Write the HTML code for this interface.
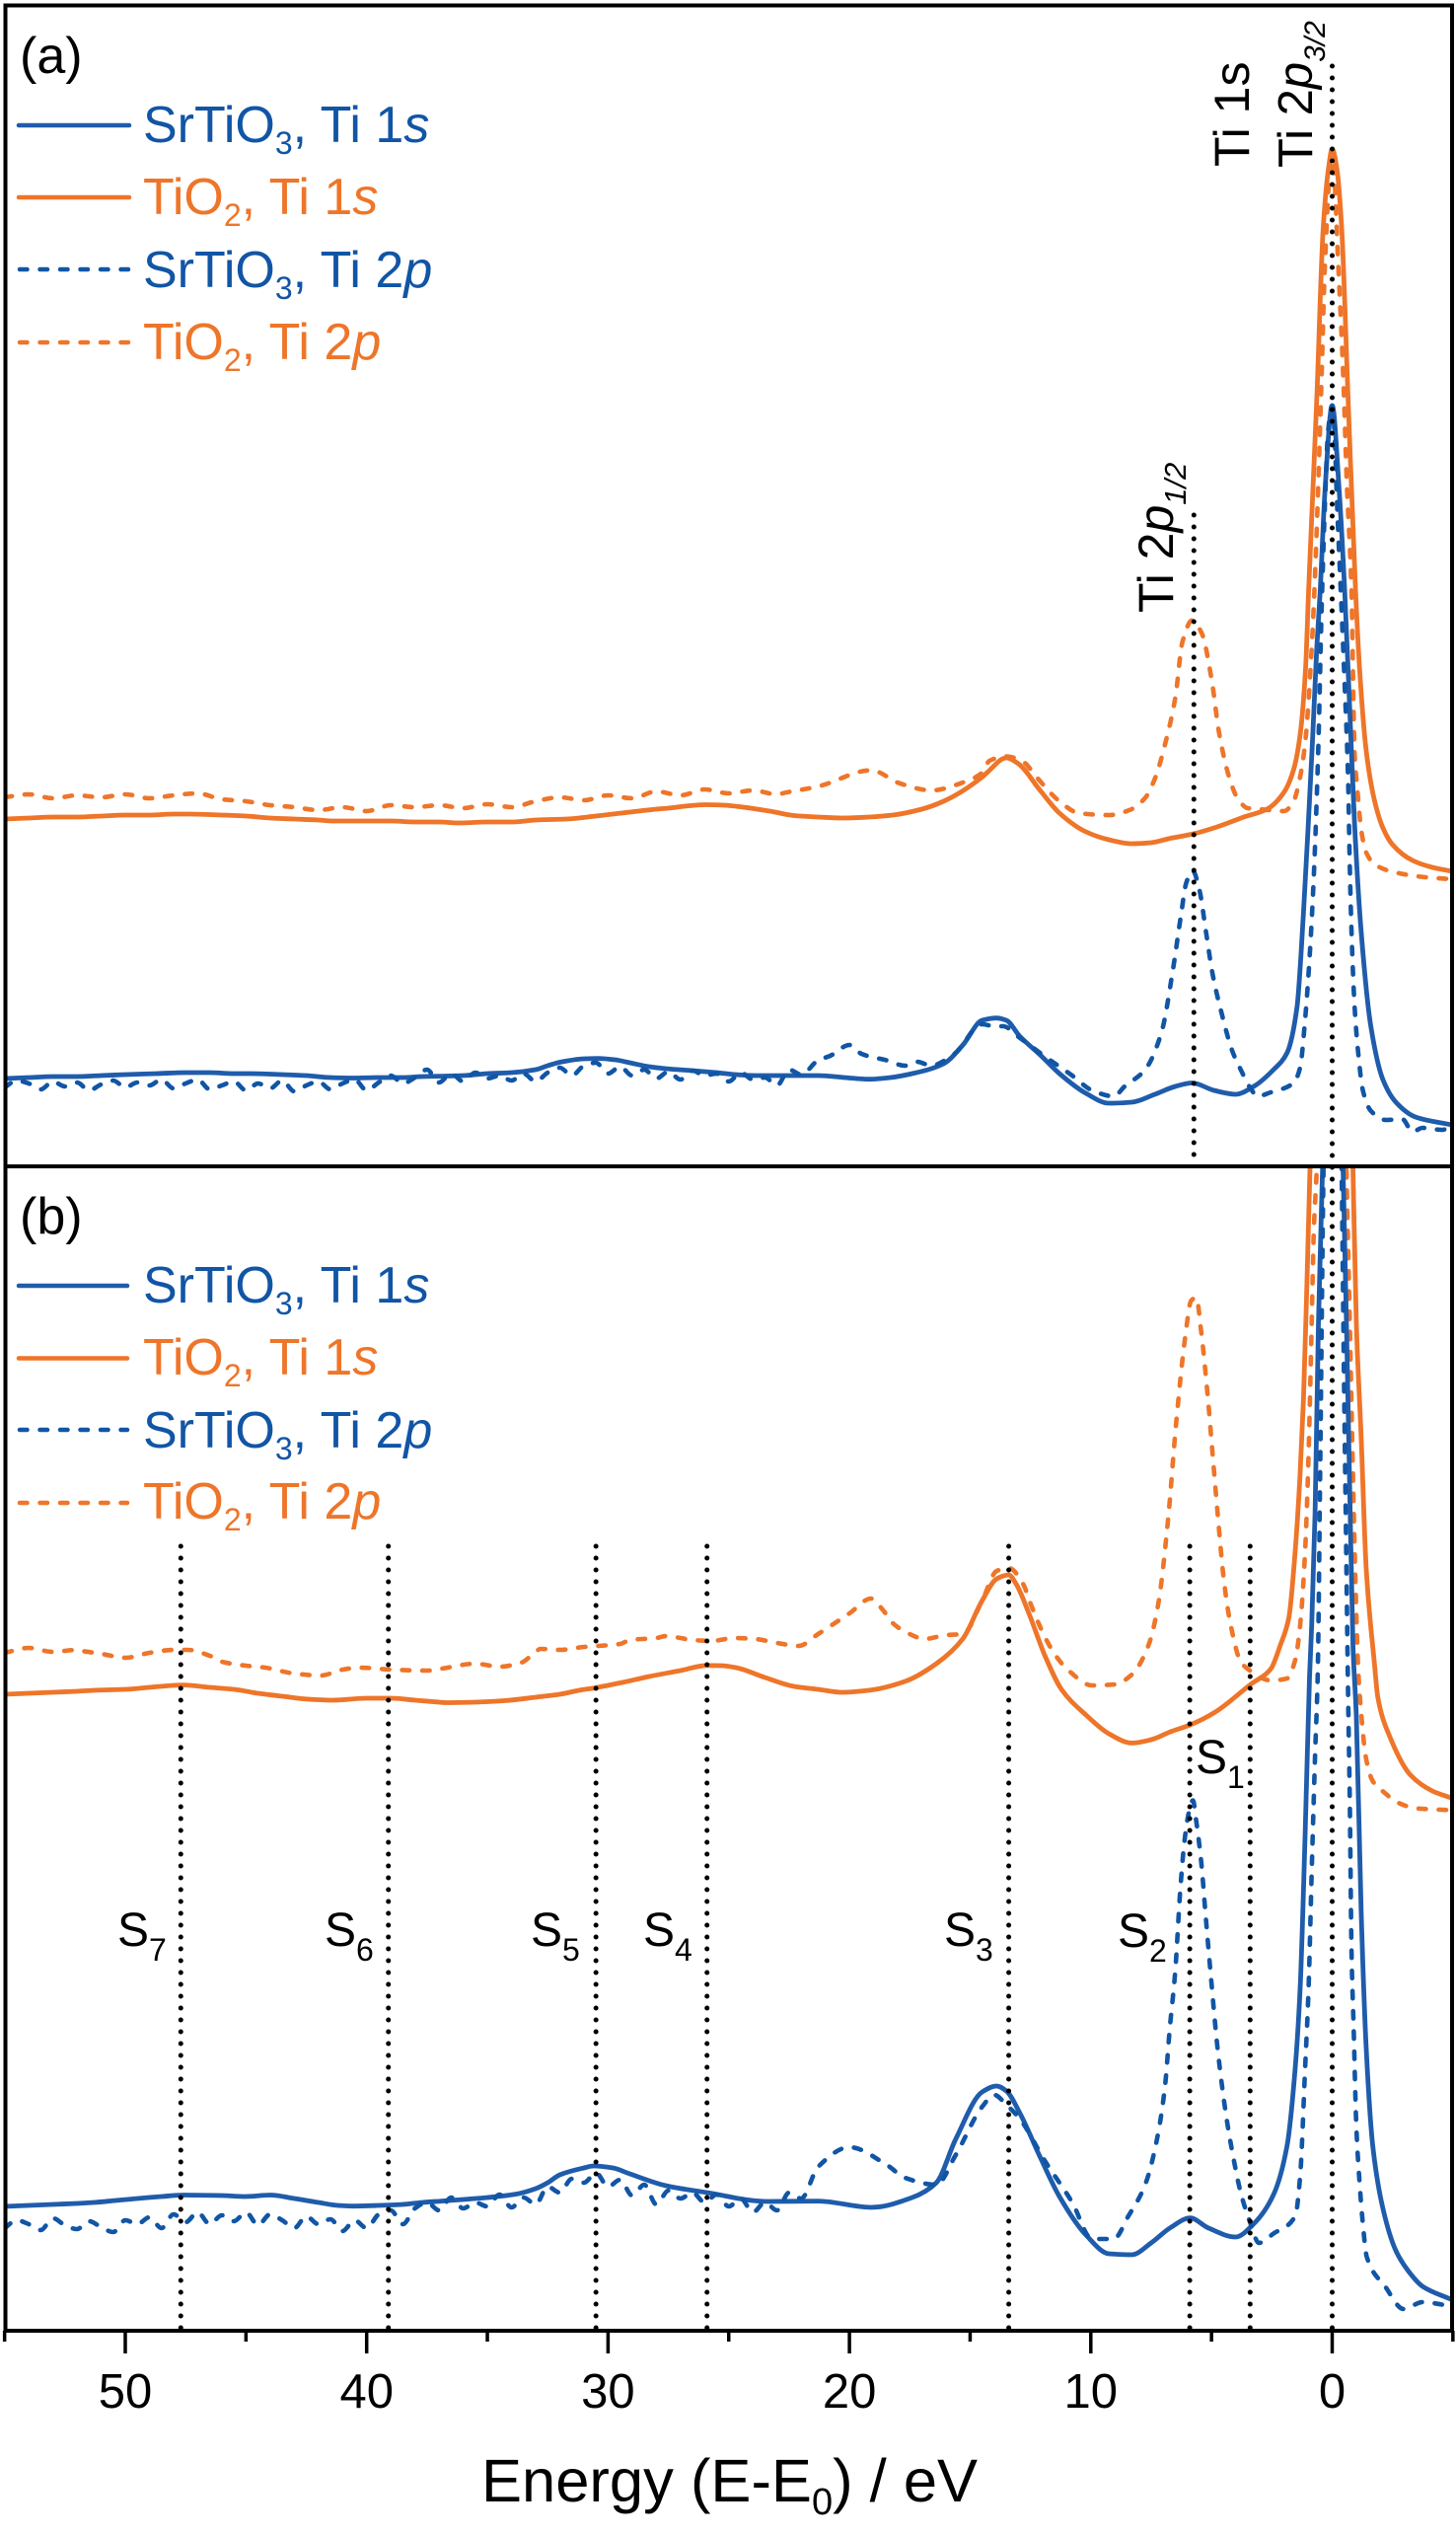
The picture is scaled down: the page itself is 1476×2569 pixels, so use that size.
<!DOCTYPE html>
<html lang="en">
<head>
<meta charset="utf-8">
<title>Ti 1s and Ti 2p energy loss spectra</title>
<style>
html,body{margin:0;padding:0;background:#fff;}
svg{display:block;font-family:"Liberation Sans",Arial,sans-serif;}
</style>
</head>
<body>
<svg id="chart" xmlns="http://www.w3.org/2000/svg" width="1476" height="2569" viewBox="0 0 1476 2569">
  <defs>
    <clipPath id="clip-a"><rect x="5" y="5" width="1467" height="1175"/></clipPath>
    <clipPath id="clip-b"><rect x="5" y="1183" width="1467" height="1178"/></clipPath>
  </defs>
  <rect x="0" y="0" width="1476" height="2569" fill="#fff"/>
  <g id="panel-a-marks" clip-path="url(#clip-a)"></g>
  <g id="panel-b-marks" clip-path="url(#clip-b)"></g>
  <g id="guides"></g>

  <rect x="5.5" y="5.5" width="1466.5" height="2356.5" fill="none" stroke="#000" stroke-width="4"/>
  <line x1="5" y1="1182" x2="1472" y2="1182" stroke="#000" stroke-width="4"/>
  <g id="x-axis"></g>
  <text x="488" y="2535" font-size="61.5" fill="#000">Energy (E-E<tspan dy="13" font-size="38">0</tspan><tspan dy="-13">) / eV</tspan></text>

  <text x="20" y="74" font-size="52" fill="#000">(a)</text>
  <g font-size="52">
    <g fill="#1155a5">
      <line x1="19" y1="127" x2="131" y2="127" stroke="#1f5cab" stroke-width="4.5" stroke-linecap="round"/>
      <text x="145" y="144">SrTiO<tspan dy="12" font-size="32">3</tspan><tspan dy="-12">, Ti 1</tspan><tspan font-style="italic">s</tspan></text>
    </g>
    <g fill="#ee7529">
      <line x1="19" y1="200" x2="131" y2="200" stroke="#ee7529" stroke-width="4.5" stroke-linecap="round"/>
      <text x="145" y="217">TiO<tspan dy="12" font-size="32">2</tspan><tspan dy="-12">, Ti 1</tspan><tspan font-style="italic">s</tspan></text>
    </g>
    <g fill="#1155a5">
      <line x1="20" y1="273" x2="131" y2="273" stroke="#1155a5" stroke-width="4.5" stroke-linecap="round" stroke-dasharray="7.5 13"/>
      <text x="145" y="291">SrTiO<tspan dy="12" font-size="32">3</tspan><tspan dy="-12">, Ti 2</tspan><tspan font-style="italic">p</tspan></text>
    </g>
    <g fill="#ee7529">
      <line x1="20" y1="347" x2="131" y2="347" stroke="#ee7529" stroke-width="4.5" stroke-linecap="round" stroke-dasharray="7.5 13"/>
      <text x="145" y="364">TiO<tspan dy="12" font-size="32">2</tspan><tspan dy="-12">, Ti 2</tspan><tspan font-style="italic">p</tspan></text>
    </g>
  </g>

  <text x="20" y="1250" font-size="52" fill="#000">(b)</text>
  <g font-size="52">
    <g fill="#1155a5">
      <line x1="19" y1="1303" x2="129" y2="1303" stroke="#1f5cab" stroke-width="4.5" stroke-linecap="round"/>
      <text x="145" y="1320">SrTiO<tspan dy="12" font-size="32">3</tspan><tspan dy="-12">, Ti 1</tspan><tspan font-style="italic">s</tspan></text>
    </g>
    <g fill="#ee7529">
      <line x1="19" y1="1376.5" x2="129" y2="1376.5" stroke="#ee7529" stroke-width="4.5" stroke-linecap="round"/>
      <text x="145" y="1393">TiO<tspan dy="12" font-size="32">2</tspan><tspan dy="-12">, Ti 1</tspan><tspan font-style="italic">s</tspan></text>
    </g>
    <g fill="#1155a5">
      <line x1="20" y1="1449" x2="129" y2="1449" stroke="#1155a5" stroke-width="4.5" stroke-linecap="round" stroke-dasharray="7.5 13"/>
      <text x="145" y="1467">SrTiO<tspan dy="12" font-size="32">3</tspan><tspan dy="-12">, Ti 2</tspan><tspan font-style="italic">p</tspan></text>
    </g>
    <g fill="#ee7529">
      <line x1="20" y1="1523" x2="129" y2="1523" stroke="#ee7529" stroke-width="4.5" stroke-linecap="round" stroke-dasharray="7.5 13"/>
      <text x="145" y="1539">TiO<tspan dy="12" font-size="32">2</tspan><tspan dy="-12">, Ti 2</tspan><tspan font-style="italic">p</tspan></text>
    </g>
  </g>

  <text transform="translate(1266,169) rotate(-90)" font-size="50" fill="#000">Ti 1s</text>
  <text transform="translate(1330,170) rotate(-90)" font-size="49" fill="#000">Ti 2<tspan font-style="italic">p</tspan><tspan dy="13" font-size="30" font-style="italic">3/2</tspan></text>
  <text transform="translate(1189,621) rotate(-90)" font-size="50" fill="#000">Ti 2<tspan font-style="italic">p</tspan><tspan dy="13" font-size="31" font-style="italic">1/2</tspan></text>

  <g font-size="48" fill="#000">
    <text x="119" y="1972">S<tspan dy="15" font-size="32">7</tspan></text>
    <text x="329" y="1972">S<tspan dy="15" font-size="32">6</tspan></text>
    <text x="538" y="1972">S<tspan dy="15" font-size="32">5</tspan></text>
    <text x="652" y="1972">S<tspan dy="15" font-size="32">4</tspan></text>
    <text x="957" y="1972">S<tspan dy="15" font-size="32">3</tspan></text>
    <text x="1133" y="1973">S<tspan dy="15" font-size="32">2</tspan></text>
    <text x="1212" y="1797">S<tspan dy="15" font-size="32">1</tspan></text>
  </g>
</svg>
<script>
// ---- axis tick data ----
const majorTicks = [50, 40, 30, 20, 10, 0];
const minorTicks = [55, 45, 35, 25, 15, 5, -5];
const tickLabels = ["50", "40", "30", "20", "10", "0"];

// ---- guide energies (eV) ----
const coreLevelEnergies = [0];
const ti2p12Energies = [5.73];
const satelliteEnergies = [47.7, 39.1, 30.5, 25.9, 13.4, 5.9, 3.4];

// ---- panel (a) ----
const aTiO2_1s_E = [55,54,53,52,51,50,49,48,47.4,46,45,44,43,42,41.4,40,39,38,37,36.2,35,34,33,31.7,30.5,29.1,28,27.5,26.8,26,25.2,24.4,23.3,22.3,21.3,20.3,19.2,18.2,17,16.1,14.5,14.3,13.5,13,12.1,11.3,10.2,9.25,8.3,7.5,6.7,5.74,4.77,3.66,2.7,2,1.6,1.33,1.1,0.98,0.64,0.37,0.16,0,-0.2,-0.39,-0.66,-0.97,-1.13,-1.41,-1.74,-2.1,-2.5,-3.33,-4.15,-4.97];
const aTiO2_1s_V = [350,351,352,352,353,354,354,355,355,354,353,351,350,349,348,348,348,347,347,346,347,347,349,350,353,357,360,361,363,364.5,364,362,358,353.5,352,351,352,354,360,368,392.5,397,412,406,379,356,337,329,325,326,330.5,335,342,352,360,377,400,435,504,580,775,950,1008,1029,1008,950,775,580,504,419,370,341,324,308,301,297];

const aTiO2_2p_E = [55,54,53,52,51,50,49,48,47,46,45,44,43,42,41,40,39,38,37,36,35,34,33,32,31,30,29,28,27,26,25,24,23,22.6,21.3,19.1,17.9,16.6,15.3,14.5,14.2,13.5,12.8,12.25,11.3,10.5,9.25,8.4,7.75,7.35,6.87,6.5,6.2,5.8,5.4,5,4.68,4.27,3.93,3.5,3,2,1.6,1.33,1.12,0.85,0.74,0.57,0.44,0.3,0,-0.25,-0.46,-0.6,-0.8,-0.93,-1.04,-1.2,-1.41,-1.74,-2.43,-3.86,-4.97];
const aTiO2_2p_V = [372,375,371,374,372,375,371,374,376,370,368,364,362,359,362,358,364,362,364,361,365,362,368,372,369,374,371,378,374,380,376,379,375,377,383,399.4,386,379,387,397,409,413.5,408,392.5,368,356,354,359,371.4,390.6,431,473,530,551.3,538,492,436.5,392.5,371.4,361,360,358,368,392.5,427,523,580,694,797,912,1029,912,797,694,580,415.4,381,339,316,304.5,297,291,289];

const aSrTiO3_1s_E = [55,54,53,52,51,50,48.7,47.5,46.5,45.5,44.8,43.5,42.5,41.5,40.6,39.5,38.5,37.7,36.9,36,35,34,33,32.5,32,31,30.4,29.7,29.1,28.3,27.6,26.5,25.5,24.7,23.9,22.6,21.3,20.2,19.2,18.3,17.4,16.1,15.3,14.5,13.9,13.5,12.95,12.1,11.3,10.2,9.25,8.3,7.35,6.5,5.8,4.9,4,3.25,2.43,1.87,1.46,1.19,0.98,0.82,0.64,0.5,0.3,0,-0.29,-0.52,-0.72,-0.93,-1.2,-1.6,-2.1,-2.64,-3.45,-4.97];
const aSrTiO3_1s_V = [87,88,89,89,90,91,92,93,93,92,92,91,90,88,87.5,88,88,89,89.4,90,92,93,96,100,103.5,107,107.4,106,103,99,97,95,93,91,90,90,90,88,86.3,88,92,102,121,146,148.3,146,130,111,92,72,62,63,71,79,82.5,75,71,79,96,113,159,255,350,427,523,580,682.5,769,682.5,580,465,343,236,140,86,63,48,40];

const aSrTiO3_2p_E = [55,54.5,54,53.5,53,52.5,52,51.5,51,50.5,50,49.5,49,48.5,48,47.5,47,46.5,46,45.5,45,44.5,44,43.5,43,42.5,42,41.5,41,40.5,40,39.5,39,38.5,38,37.5,37,36.5,36,35.5,35,34.5,34,33.5,33,32.5,32,31.5,31,30.5,30,29.5,29,28.5,28,27.5,27,26.5,26,25.5,25,24.5,24,23.5,23,22.5,22,21.3,20.8,20,19.5,18.45,17.7,17.2,16.6,16,15.6,14.5,14,13.64,12.95,11.9,10.77,9.95,9.05,8.6,7.75,7.07,6.6,6.25,6.05,5.78,5.5,5.23,4.96,4.6,4.14,3.79,3.38,3.1,2.55,1.6,1.33,1.12,0.92,0.76,0.57,0.44,0.28,0.18,0,-0.1,-0.18,-0.39,-0.52,-0.66,-0.72,-0.8,-0.93,-1.07,-1.27,-1.61,-2.23,-2.9,-3.33,-3.74,-4.56,-4.97];
const aSrTiO3_2p_V = [78,85,82,76,84,79,83,75,81,85,78,83,80,86,77,82,86,76,80,84,75,82,77,85,74,80,84,76,82,86,75,83,90,82,88,96,83,92,84,93,87,90,85,92,84,93,98,90,100,103,92,99,90,96,87,94,86,95,90,92,84,93,86,88,80,96,91,105.4,110,121,112,105.4,100,104,100,106,113,142,140,140,128.4,109.3,90,75,69,79,96,134,197,255,285,297.6,278,236,193.5,155,115,96,77,69,73,82.5,98,147.5,216.4,293,427,561,683,740,769,740,683,561,484,389,312,236,159,115,75,54,45,46,33,37,35,40];

// ---- panel (b) ----
const bTiO2_1s_E = [55,54,53,52,51.3,50,49,48,47.6,46.5,45.5,44.5,43.5,42.4,41.4,40,39,38,37,36.7,35.5,34.3,33,32,31.2,30.6,29.4,28.3,27,25.9,25.3,24.7,23.5,22.3,21.3,20.3,19.2,17.7,16.4,15.3,14.5,13.9,13.4,13.1,12.55,11.9,11.2,10.2,9.25,8.3,7.5,6.7,5.88,4.88,3.38,2.55,2.14,1.8,1.53,1.33,1.19,1.05,0.92,0.5,0,-0.5,-0.86,-1,-1.2,-1.41,-1.75,-1.89,-2.37,-3.25,-4.15,-5];
const bTiO2_1s_V = [645,646,647,648,649,650,652,654,654.4,652,650,646,643,640,639,641,641,639,637,636.5,637,638.5,642,645,649,651.3,657,663,669,674.2,674,672,662,653,650,647,649,658,676,701.3,740,762,766,757,726,684,649.4,624,605,595.6,599,607,614,626.4,655,670.5,695.4,722,791,868,944,1059,1178,1662,2000,1662,1178,1021,906,772,676,642,603,563,547,539.4];

const bTiO2_2p_E = [55,54,53,52,51.8,51,50,49,48,47.4,46.5,46,45,44.2,43,41.9,41,40.3,39,37.5,36.9,35.5,34.5,33.6,33,32.8,32,31,30.4,29.5,29.1,28,27.6,26.5,25.7,24.8,23.9,23,22.1,21.3,20.8,20,19.1,18.6,18.2,17.5,16.9,16,15.3,14.5,13.9,13.4,12.8,12.5,11.9,11.45,10.9,9.95,9,8.3,7.6,7.2,6.8,6.46,6.1,5.84,5.63,5.43,5.16,4.95,4.75,4.47,4.2,3.79,3.38,2.55,1.87,1.53,1.33,1.12,0.98,0.85,0.76,0.64,0,-0.59,-0.73,-0.86,-0.97,-1.08,-1.16,-1.41,-1.68,-2.16,-2.7,-3.45,-5.03];
const bTiO2_2p_V = [687,692,688,690,689,686,682,687,690,690,684,678,674,672,666,664,670,672,670,669,671,676,673,677,688,691,690,693,694,696,700,702,704,700,699,702,701,697,694,706,714,727,742,730,717,706,701,705,706,740,770,773,756.6,737,703,684,668.6,654,655,665,695.4,737.4,822,921,1005,1044,1047,1013,948,887,829,757,714.5,678,668.6,659,661,680,714.5,791,887,1021,1116,1178,2000,1178,1021,868,753,669,638,579,557,545.4,535.5,529.5,527.5];

const bSrTiO3_1s_E = [55,54,53,52,51.3,50.4,49.5,48.5,47.6,46,45,44,43,42,41.2,40.6,39.5,38.5,37.7,36.9,36,35,33.8,33,32.5,32,31,30.6,29.8,29.1,27.6,25.9,23.4,21.3,19.1,17.4,16.4,15.6,14.5,13.9,13.5,12.95,12.1,11.3,10.2,9.25,8.3,7.5,6.7,5.88,5.16,4,3.25,2.43,1.87,1.53,1.33,1.12,0.94,0.85,0.71,0.57,0.4,0,-0.45,-0.59,-0.73,-0.86,-1,-1.2,-1.41,-1.68,-2.1,-2.64,-3.17,-3.74,-4.9];
const bSrTiO3_1s_V = [126,127,128,129,130,132,134,136,137.5,137,136,137.5,134,130,127,126.3,127,128,130,131.4,133,135,138.5,144,150,158,165,167,165,159,147,140,131,131.4,125,135,150,194,242,248,243,221,176,136,97,78,77,89,104.5,114.4,104.5,95,108.4,138,187.5,267,346,504,662,714.5,829,1021,1178,1700,1178,1021,848,695,622.5,425,286,187.5,124,81,60,45,32];

const bSrTiO3_2p_E = [55,54.5,54,53.5,53,52.5,52,51.5,51,50.5,50,49.5,49,48.5,48,47.5,47,46.5,46,45.5,45,44.5,44,43.5,43,42.5,42,41.5,41,40.5,40,39.5,39,38.5,38,37.5,37,36.5,36,35.5,35,34.5,34,33.5,33,32.5,32,31.5,31,30.5,30,29.5,29,28.5,28,27.5,27,26.5,26,25.5,25,24.5,24,23.5,23,22.5,22,21.3,20,18.45,17.7,16.4,15.6,14.5,14,13.5,12.95,11.9,10.77,9.95,9.05,8.45,7.75,7.28,6.93,6.73,6.5,6.3,6.12,5.95,5.77,5.63,5.43,5.23,5.02,4.75,4.4,4.13,3.79,3.38,3.04,2.43,1.53,1.33,1.12,0.98,0.85,0.71,0.6,0.5,0.37,0,-0.39,-0.48,-0.59,-0.66,-0.73,-0.8,-0.89,-1,-1.14,-1.27,-1.43,-2.19,-2.96,-3.74,-4.9];
const bSrTiO3_2p_V = [104,112,108,102,114,107,103,111,105,100,112,108,115,104,118,110,120,108,117,111,120,107,118,112,104,116,108,113,101,112,104,118,122,108,124,130,122,135,124,130,126,138,125,135,128,146,140,154,150,160,146,153,137,148,128,142,134,140,130,138,126,134,120,130,122,140,134,166,186,168,155,148,178,227,239,229,215,172,130,93,93,116,148,191.5,247,306,365,444.5,496,524,537.5,516,476,417,357.5,286.4,219,180,140,108.4,89,98.5,116.3,156,267,346,464.3,583,665,868,1162,1700,1178,982,772,642,535.5,385,306,207,148,108.4,75,45,22,29,25];

// ---- axis functions ----
function xScale(energy) { return 1350.5 - 24.47 * energy; }
function yPanelA(value) { return 1180 - value; }
function yPanelB(value) { return 2362 - value; }

const SVG_NS = 'http://www.w3.org/2000/svg';
const BLUE_SOLID = '#1f5cab';
const BLUE_DASH = '#1155a5';
const ORANGE = '#ee7529';

// Monotone cubic path through the scaled points (x strictly increasing).
function monotonePath(xs, ys) {
  const n = xs.length;
  const secants = [];
  for (let i = 0; i < n - 1; i++) secants.push((ys[i + 1] - ys[i]) / (xs[i + 1] - xs[i]));
  const slopes = [secants[0]];
  for (let i = 1; i < n - 1; i++) {
    const a = secants[i - 1], b = secants[i];
    if (a * b <= 0) {
      slopes.push(0);
    } else {
      const h0 = xs[i] - xs[i - 1], h1 = xs[i + 1] - xs[i];
      slopes.push(3 * (h0 + h1) / ((2 * h1 + h0) / a + (h1 + 2 * h0) / b));
    }
  }
  slopes.push(secants[n - 2]);
  let d = 'M' + xs[0].toFixed(2) + ',' + ys[0].toFixed(2);
  for (let i = 0; i < n - 1; i++) {
    const h = (xs[i + 1] - xs[i]) / 3;
    d += 'C' + (xs[i] + h).toFixed(2) + ',' + (ys[i] + h * slopes[i]).toFixed(2) +
         ' ' + (xs[i + 1] - h).toFixed(2) + ',' + (ys[i + 1] - h * slopes[i + 1]).toFixed(2) +
         ' ' + xs[i + 1].toFixed(2) + ',' + ys[i + 1].toFixed(2);
  }
  return d;
}

function drawSeries(parent, energies, values, yScale, color, dashed, name) {
  const el = document.createElementNS(SVG_NS, 'path');
  
  
  el.setAttribute('d', monotonePath(energies.map(xScale), values.map(yScale)));
  el.setAttribute('fill', 'none');
  el.setAttribute('stroke', color);
  el.setAttribute('stroke-width', dashed ? '4.6' : '4.8');
  el.setAttribute('stroke-linejoin', 'round');
  el.setAttribute('stroke-linecap', 'round');
  if (dashed) el.setAttribute('stroke-dasharray', '7.5 13');
  parent.appendChild(el);
}

const panelA = document.getElementById('panel-a-marks');
drawSeries(panelA, aTiO2_1s_E, aTiO2_1s_V, yPanelA, ORANGE, false, 'series-a-tio2-ti-1s');
drawSeries(panelA, aTiO2_2p_E, aTiO2_2p_V, yPanelA, ORANGE, true, 'series-a-tio2-ti-2p');
drawSeries(panelA, aSrTiO3_1s_E, aSrTiO3_1s_V, yPanelA, BLUE_SOLID, false, 'series-a-srtio3-ti-1s');
drawSeries(panelA, aSrTiO3_2p_E, aSrTiO3_2p_V, yPanelA, BLUE_DASH, true, 'series-a-srtio3-ti-2p');

const panelB = document.getElementById('panel-b-marks');
drawSeries(panelB, bTiO2_1s_E, bTiO2_1s_V, yPanelB, ORANGE, false, 'series-b-tio2-ti-1s');
drawSeries(panelB, bTiO2_2p_E, bTiO2_2p_V, yPanelB, ORANGE, true, 'series-b-tio2-ti-2p');
drawSeries(panelB, bSrTiO3_1s_E, bSrTiO3_1s_V, yPanelB, BLUE_SOLID, false, 'series-b-srtio3-ti-1s');
drawSeries(panelB, bSrTiO3_2p_E, bSrTiO3_2p_V, yPanelB, BLUE_DASH, true, 'series-b-srtio3-ti-2p');

// ---- dotted guides ----
const guides = document.getElementById('guides');
function drawGuide(energy, yTop, yBottom, name) {
  const el = document.createElementNS(SVG_NS, 'line');
  
  
  el.setAttribute('x1', xScale(energy));
  el.setAttribute('x2', xScale(energy));
  el.setAttribute('y1', yTop);
  el.setAttribute('y2', yBottom);
  el.setAttribute('stroke', '#000');
  el.setAttribute('stroke-width', '5');
  el.setAttribute('stroke-linecap', 'round');
  el.setAttribute('stroke-dasharray', '0 12');
  guides.appendChild(el);
}
coreLevelEnergies.forEach(function (e) { drawGuide(e, 67, 2360, 'guide-ti-2p-3-2'); });
ti2p12Energies.forEach(function (e) { drawGuide(e, 522, 1175, 'guide-ti-2p-1-2'); });
satelliteEnergies.forEach(function (e, i) { drawGuide(e, 1567, 2360, 'guide-s' + (7 - i)); });

// ---- x axis ----
const axis = document.getElementById('x-axis');
function drawTick(energy, length, name) {
  const el = document.createElementNS(SVG_NS, 'line');
  
  
  el.setAttribute('x1', xScale(energy));
  el.setAttribute('x2', xScale(energy));
  el.setAttribute('y1', 2362);
  el.setAttribute('y2', 2362 + length);
  el.setAttribute('stroke', '#000');
  el.setAttribute('stroke-width', '3.5');
  axis.appendChild(el);
}
majorTicks.forEach(function (e, i) {
  drawTick(e, 23, 'major-tick-' + tickLabels[i]);
  const label = document.createElementNS(SVG_NS, 'text');
  
  
  label.setAttribute('x', xScale(e));
  label.setAttribute('y', 2440);
  label.setAttribute('font-size', '49');
  label.setAttribute('text-anchor', 'middle');
  label.setAttribute('fill', '#000');
  label.textContent = tickLabels[i];
  axis.appendChild(label);
});
minorTicks.forEach(function (e) {
  drawTick(e, 11, 'minor-tick');
});
</script>
</body>
</html>
